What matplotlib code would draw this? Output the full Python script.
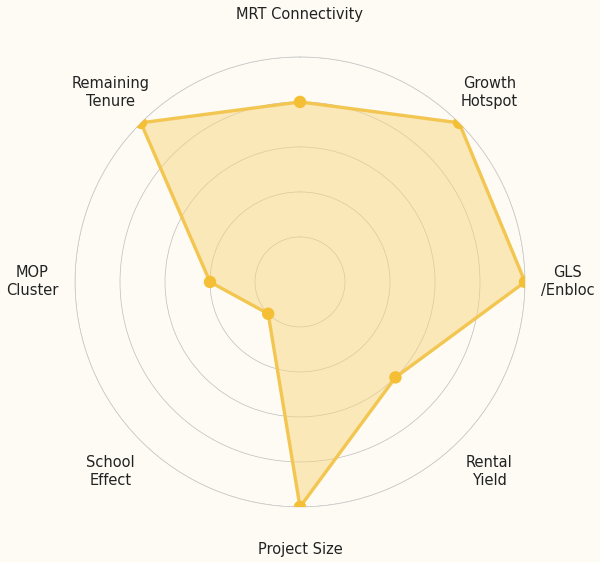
import numpy as np
import matplotlib
matplotlib.use("Agg")
import matplotlib.pyplot as plt

plt.rcParams["font.family"] = ["DejaVu Sans"]

categories = ["MRT Connectivity", "Growth\nHotspot", "GLS\n/Enbloc", "Rental\nYield",
              "Project Size", "School\nEffect", "MOP\nCluster", "Remaining\nTenure"]
values = [8, 10, 10, 6, 10, 2, 4, 10]
ring_ticks = [2, 4, 6, 8, 10]

bg = "#fdfbf4"
fig = plt.figure(figsize=(6, 5.62), dpi=100, facecolor=bg)
ax = fig.add_axes([0.125, 0.098, 0.75, 0.8007], projection="polar")
ax.set_facecolor(bg)
ax.set_theta_offset(np.pi / 2)
ax.set_theta_direction(-1)

n = len(categories)
angles = np.linspace(0, 2 * np.pi, n, endpoint=False)
a_closed = np.concatenate([angles, angles[:1]])
v_closed = values + values[:1]

ax.fill(a_closed, v_closed, color="#f8d680", alpha=0.5, zorder=2)
ax.plot(a_closed, v_closed, color="#f2c650", linewidth=2.4, zorder=3)
ax.scatter(angles, values, s=80, color="#f5bf35", zorder=4, edgecolors="none")

ax.set_ylim(0, 10)
ax.set_yticks(ring_ticks)
ax.set_yticklabels([])
ax.set_xticks([])
ax.grid(True, axis="y", color="#bdbdbd", linewidth=0.5)
ax.grid(False, axis="x")
ax.spines["polar"].set_color("#c8c8c8")
ax.spines["polar"].set_linewidth(0.5)

for ang, lab in zip(angles, categories):
    ax.text(ang, 11.9, lab, ha="center", va="center", fontsize=10.5,
            color="#222222", linespacing=1.25)

fig.savefig("out.png", dpi=100, facecolor=bg)
